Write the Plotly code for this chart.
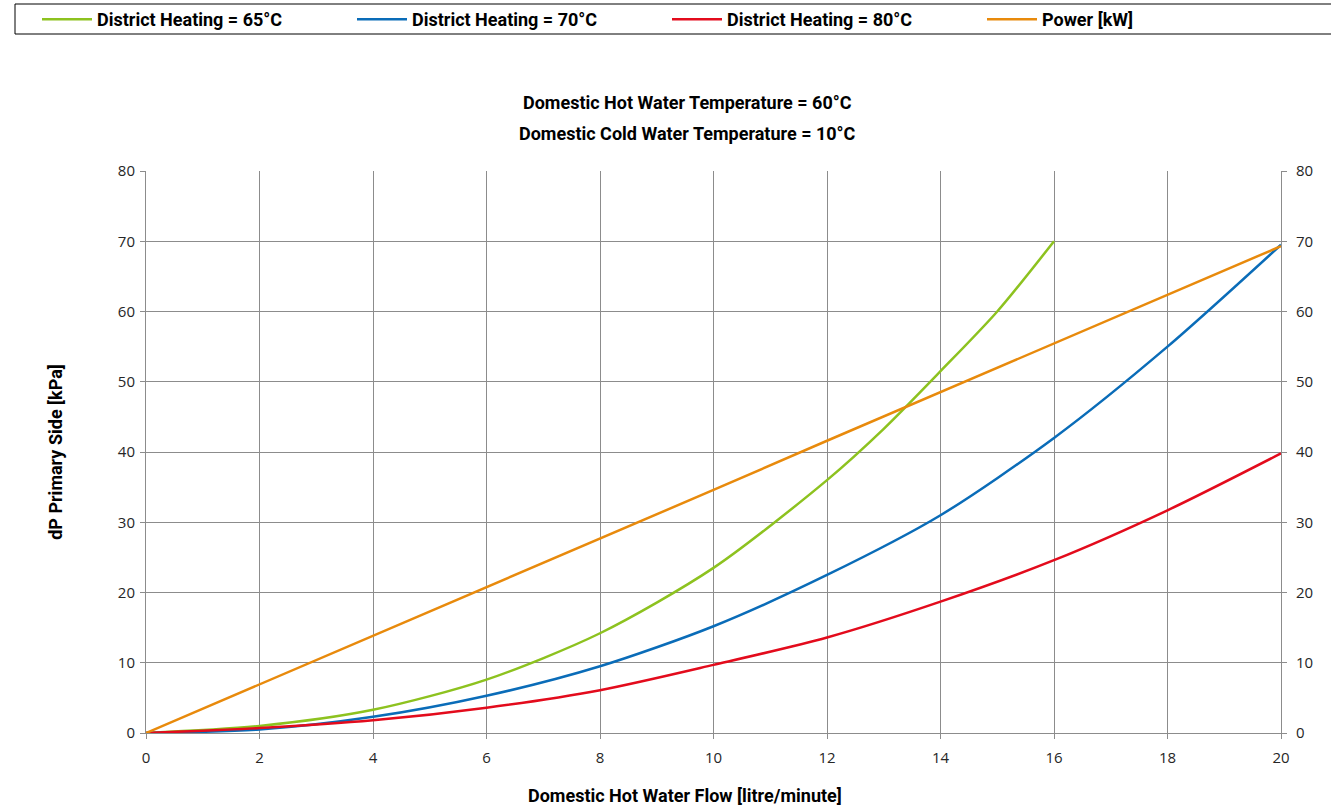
import plotly.graph_objects as go

# ---- data ----
flow = [0, 2, 4, 6, 8, 10, 12, 14, 16, 18, 20]
flow_65 = [0, 2, 4, 6, 8, 10, 12, 13, 14, 15, 16]
dp_65 = [0, 1.0, 3.3, 7.6, 14.2, 23.5, 36.0, 43.3, 51.5, 60.0, 70.0]
dp_70 = [0, 0.5, 2.3, 5.3, 9.5, 15.2, 22.5, 31.0, 42.0, 55.0, 69.5]
dp_80 = [0, 0.7, 1.8, 3.6, 6.1, 9.7, 13.6, 18.7, 24.6, 31.7, 39.8]
power = [0, 6.9, 13.8, 20.8, 27.7, 34.6, 41.6, 48.5, 55.4, 62.4, 69.3]

names = ["District Heating = 65°C", "District Heating = 70°C",
         "District Heating = 80°C", "Power [kW]"]
colors = ["#8dc21f", "#0a6cb8", "#e30b1c", "#e88a0c"]

title_lines = ["Domestic Hot Water Temperature = 60°C",
               "Domestic Cold Water Temperature = 10°C"]
x_title = "Domestic Hot Water Flow [litre/minute]"
y_title = "dP Primary Side [kPa]"

W, H = 1331, 810
L, R, T, B = 146, 50, 171, 77
pw, ph = W - L - R, H - T - B

def px_x(p):
    return (p - L) / pw

def px_y(p):
    return (H - B - p) / ph

bold_font = "Roboto"
fs = 18
tick_font = dict(family="Open Sans, Liberation Sans", size=15, color="#262626")
grid = "#8c8c8c"

fig = go.Figure()
fig.add_trace(go.Scatter(x=flow_65, y=dp_65, name=names[0], mode="lines",
                         line=dict(color=colors[0], width=2.5, shape="spline", smoothing=0.8)))
fig.add_trace(go.Scatter(x=flow, y=dp_70, name=names[1], mode="lines",
                         line=dict(color=colors[1], width=2.5, shape="spline", smoothing=0.8)))
fig.add_trace(go.Scatter(x=flow, y=dp_80, name=names[2], mode="lines",
                         line=dict(color=colors[2], width=2.5, shape="spline", smoothing=0.8)))
fig.add_trace(go.Scatter(x=flow, y=power, name=names[3], mode="lines", yaxis="y2",
                         line=dict(color=colors[3], width=2.5)))

axis_common = dict(showgrid=True, gridcolor=grid, gridwidth=1, zeroline=False,
                   showline=True, linecolor=grid, linewidth=1,
                   ticks="outside", ticklen=5, tickcolor=grid, tickfont=tick_font)

fig.update_layout(
    width=W, height=H,
    margin=dict(l=L, r=R, t=T, b=B, autoexpand=False),
    paper_bgcolor="white", plot_bgcolor="white",
    xaxis=dict(range=[0, 20], dtick=2, tick0=0, ticklabelstandoff=6, **axis_common),
    yaxis=dict(range=[0, 80], dtick=10, tick0=0, ticklabelstandoff=2,
               title=dict(text=y_title, font=dict(family=bold_font, size=fs, color="black", weight="bold"),
                          standoff=50),
               **axis_common),
    yaxis2=dict(range=[0, 80], dtick=10, tick0=0, overlaying="y", side="right",
                showgrid=False, zeroline=False, showline=True, linecolor=grid,
                ticks="outside", ticklen=5, tickcolor=grid, tickfont=tick_font,
                ticklabelstandoff=6),
    showlegend=True,
    legend=dict(orientation="h", x=px_x(37), xanchor="left", y=px_y(1), yanchor="top",
                font=dict(family=bold_font, size=fs, color="black", weight="bold"),
                entrywidth=250, entrywidthmode="pixels", itemwidth=50,
                bgcolor="rgba(0,0,0,0)", borderwidth=0),
    shapes=[dict(type="rect", xref="paper", yref="paper",
                 x0=px_x(15), x1=px_x(1340), y0=px_y(34), y1=px_y(4),
                 line=dict(color="black", width=1), fillcolor="rgba(0,0,0,0)", layer="below")],
    annotations=[
        dict(text=title_lines[0], xref="paper", yref="paper", x=px_x(687), y=px_y(103),
             showarrow=False, xanchor="center", yanchor="middle",
             font=dict(family=bold_font, size=fs, color="black", weight="bold")),
        dict(text=title_lines[1], xref="paper", yref="paper", x=px_x(687), y=px_y(134),
             showarrow=False, xanchor="center", yanchor="middle",
             font=dict(family=bold_font, size=fs, color="black", weight="bold")),
        dict(text=x_title, xref="paper", yref="paper", x=px_x(685), y=px_y(795),
             showarrow=False, xanchor="center", yanchor="middle",
             font=dict(family=bold_font, size=fs, color="black", weight="bold")),
    ],
)

fig.write_html("out.html")
